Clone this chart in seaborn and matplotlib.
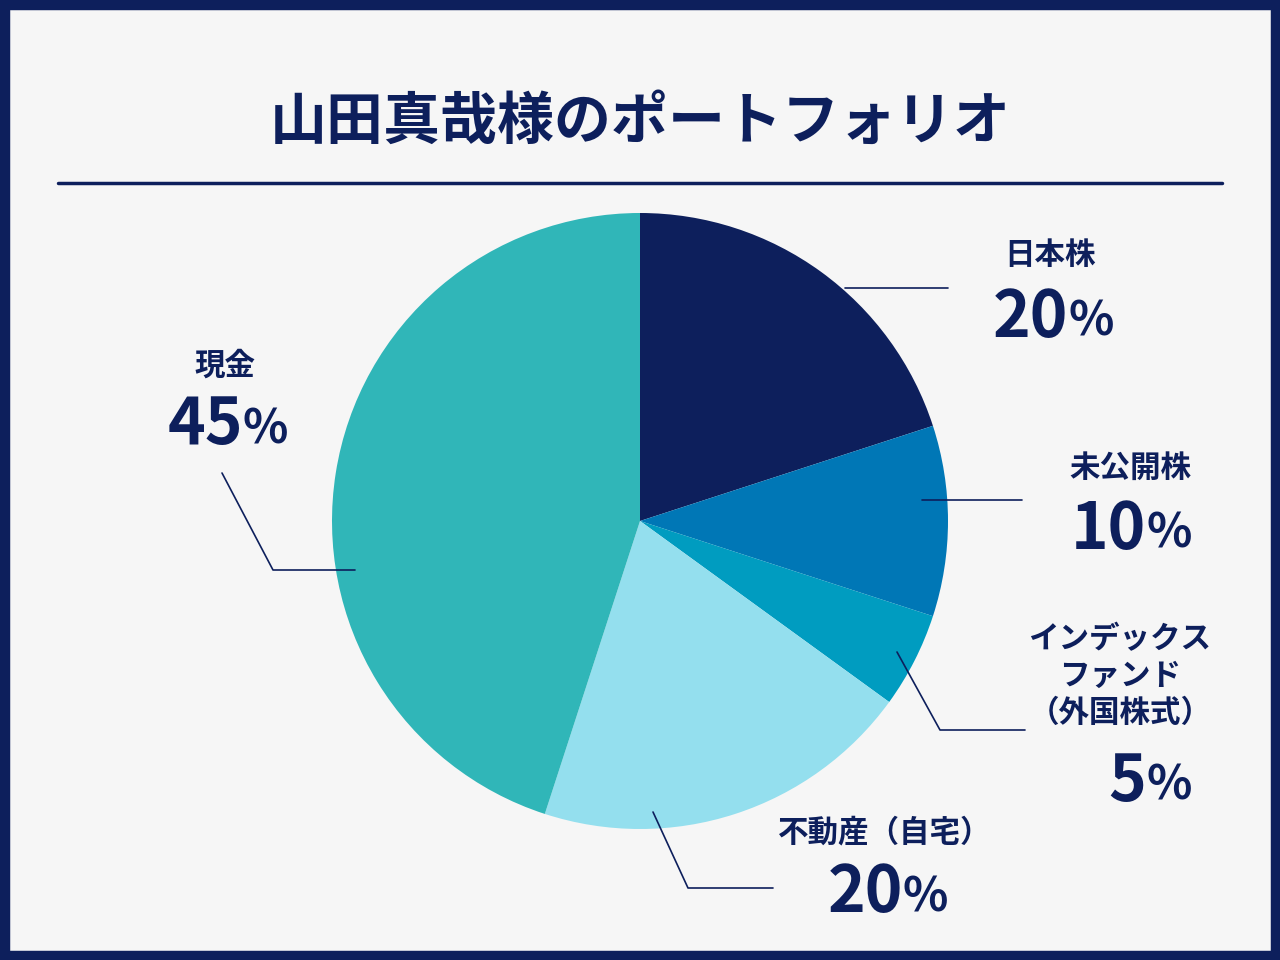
import matplotlib
matplotlib.use("Agg")
import matplotlib.pyplot as plt
import seaborn as sns

sns.set_theme(style="white")
plt.rcParams["font.family"] = "Noto Sans CJK JP"

# data
categories = ["日本株", "未公開株", "インデックス\nファンド\n（外国株式）", "不動産（自宅）", "現金"]
shares = [20, 10, 5, 20, 45]
colors = ["#0d1f5c", "#0077b6", "#009cc0", "#94dfee", "#30b6b8"]
navy = "#0d1f5c"

fig = plt.figure(figsize=(12.8, 9.6), dpi=100, facecolor="#f6f6f6")
ax = fig.add_axes([0, 0, 1, 1])

H = 960
ax.pie(shares, colors=colors, startangle=90, counterclock=False,
       center=(640, H - 521), radius=308, wedgeprops=dict(linewidth=0))
# pie resets the limits, so fix the pixel frame afterwards
ax.set_xlim(0, 1280)
ax.set_ylim(0, 960)
ax.set_aspect("equal")
ax.axis("off")

# border
fig.patches.append(plt.Rectangle((0, 0), 1, 1, transform=fig.transFigure,
                                 fill=False, edgecolor=navy, linewidth=14))

# title
ax.text(640, H - 122, "山田真哉様のポートフォリオ", ha="center", va="center",
        fontsize=41, fontweight="bold", color=navy)
ax.plot([58, 1222], [H - 183, H - 183], color=navy, lw=2.5)

# leader lines and labels (pixel positions)
leaders = [
    [(845, 288), (948, 288)],
    [(922, 500), (1022, 500)],
    [(897, 652), (940, 730), (1025, 730)],
    [(653, 812), (688, 888), (773, 888)],
    [(355, 570), (273, 570), (222, 473)],
]
label_pos = [(1050, 255), (1130, 468), (1120, 676), (885, 832), (225, 366)]
pct_pos = [(1050, 318), (1128, 530), (1128, 782), (885, 893), (225, 425)]

for i, cat in enumerate(categories):
    xs = [p[0] for p in leaders[i]]
    ys = [H - p[1] for p in leaders[i]]
    ax.plot(xs, ys, color=navy, lw=1.2)
    lx, ly = label_pos[i]
    ax.text(lx, H - ly, cat, ha="center", va="center", fontsize=22,
            fontweight="bold", color=navy, linespacing=1.2)
    px, py = pct_pos[i]
    ax.text(px + 18, H - py, str(shares[i]), ha="right", va="center",
            fontsize=46, fontweight="bold", color=navy)
    ax.text(px + 18, H - py - 4, "%", ha="left", va="center",
            fontsize=34, fontweight="bold", color=navy)

fig.savefig("out.png", dpi=100, facecolor=fig.get_facecolor())
